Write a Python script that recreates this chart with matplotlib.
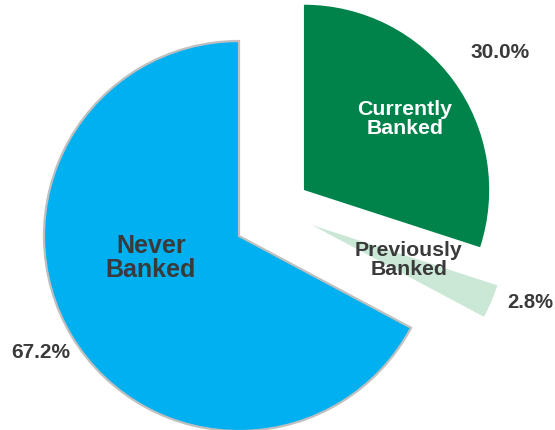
#!/usr/bin/env python3
# -*- coding: utf-8 -*-

import matplotlib
matplotlib.use("Agg")
import matplotlib.pyplot as plt

labels = ["Currently\nBanked", "Previously\nBanked", "Never\nBanked"]
shares = [30.0, 2.8, 67.2]
colors = ["#00834A", "#CBE8D6", "#00B0F0"]

# wedge offsets (in radius units), not radial like excel's
offsets = [(0.333, 0.236), (0.374, 0.056), (0.0, 0.0)]
radii = [0.95, 1.0, 1.0]

# label spots in px from the top-left corner
name_pos = [(405, 119), (409, 260), (151, 258)]
name_col = ["white", "#3A3A3A", "#3A3A3A"]
name_size = [15.3, 15.3, 18]
pct_pos = [(500, 52), (530, 302), (41, 353)]
pct_size = [15, 14.5, 15]

W, H = 555, 430
plt.rcParams['font.family'] = ['Liberation Sans', 'DejaVu Sans']

fig = plt.figure(figsize=(W / 100, H / 100), dpi=100)
ax = fig.add_axes([0, 0, 1, 1])
wedges, _ = ax.pie(shares, colors=colors, startangle=90, counterclock=False, radius=1.0)

for w, (dx, dy), r in zip(wedges, offsets, radii):
    w.set_center((dx, dy))
    w.set_radius(r)
    w.set_linewidth(0)
wedges[2].set_edgecolor("#BFBFBF")
wedges[2].set_linewidth(1.6)

# one radius = 195 px, main pie centre at (239, 236) px
r_px, cx, cy = 195.0, 239.0, 236.0
ax.set_xlim(-cx / r_px, (W - cx) / r_px)
ax.set_ylim(-(H - cy) / r_px, cy / r_px)
ax.set_aspect("equal")
ax.axis("off")

for lab, (x, y), c, s in zip(labels, name_pos, name_col, name_size):
    fig.text(x / W, 1 - y / H, lab, ha="center", va="center", color=c,
             fontsize=s, fontweight="bold", linespacing=1.0)

for v, (x, y), s in zip(shares, pct_pos, pct_size):
    fig.text(x / W, 1 - y / H, "{:.1f}%".format(v), ha="center", va="center",
             color="#3A3A3A", fontsize=s, fontweight="bold")

fig.savefig("out.png", dpi=100)
